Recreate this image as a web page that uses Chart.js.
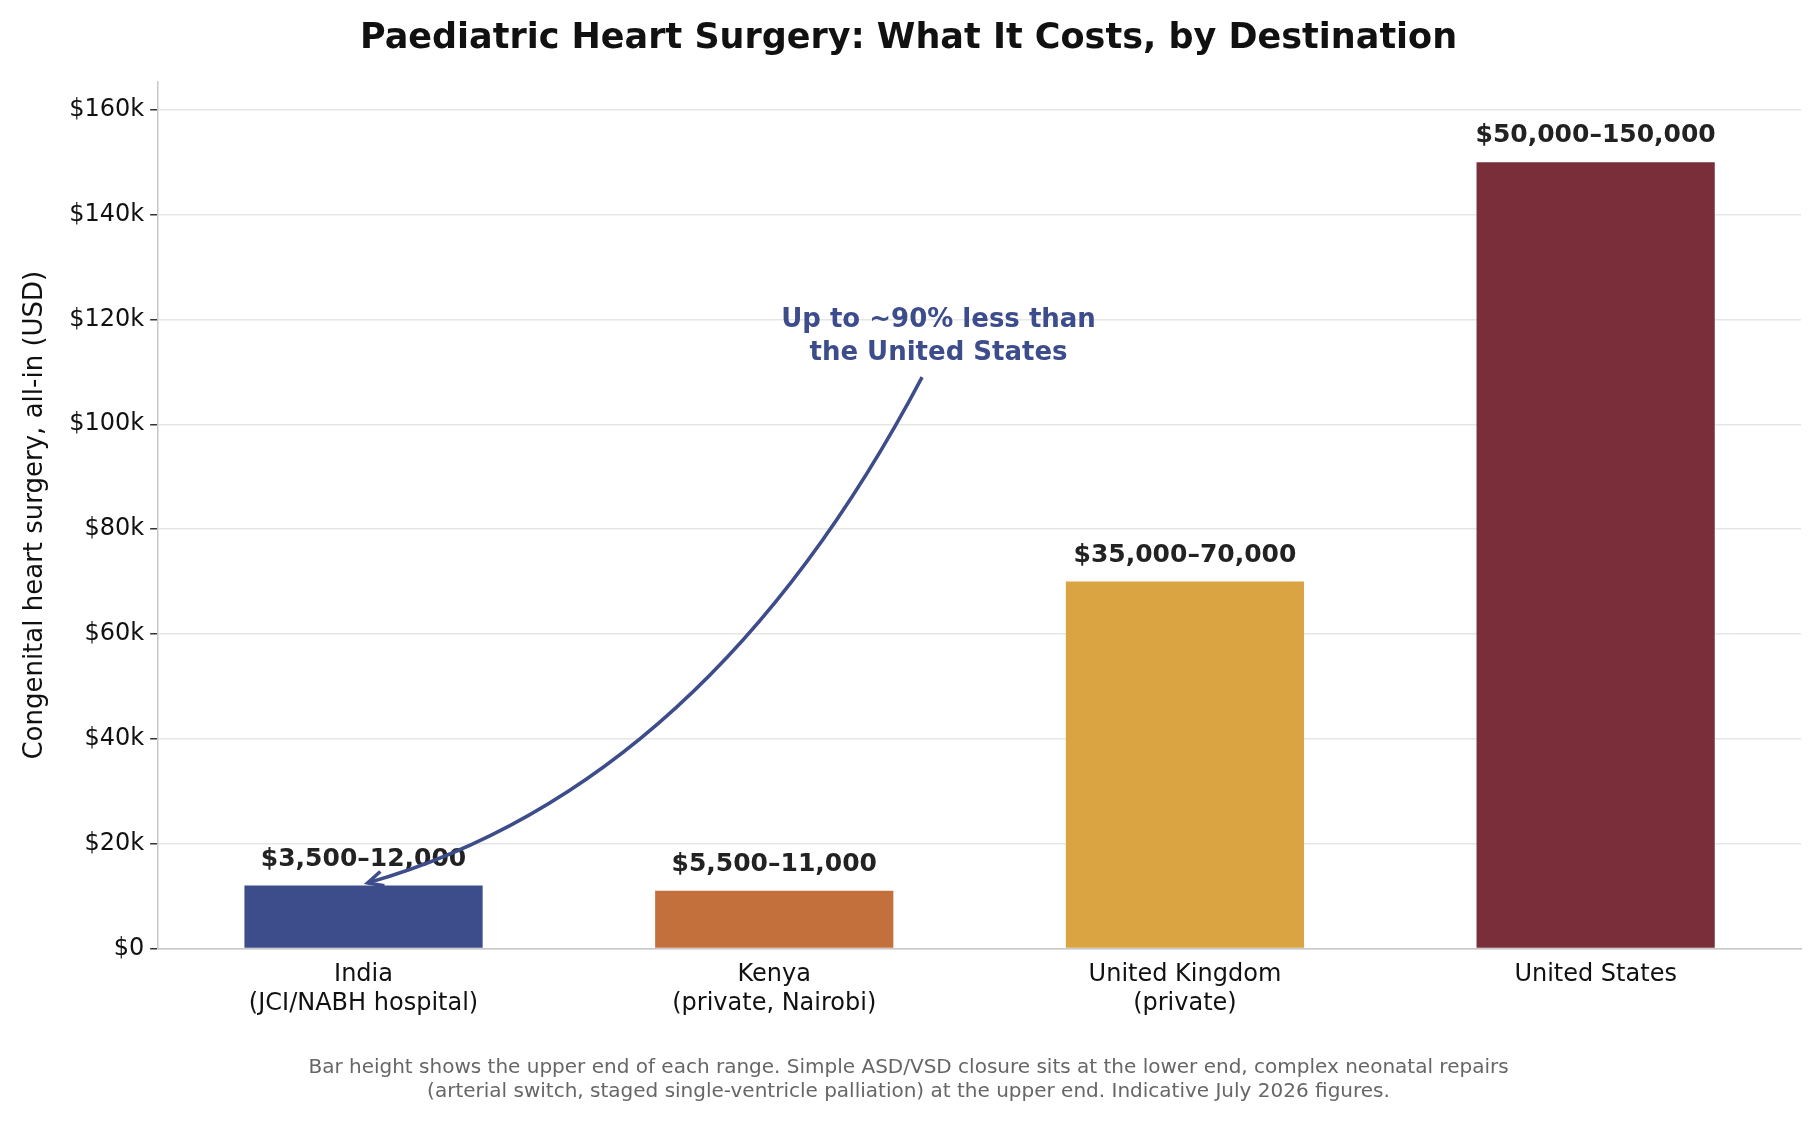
<!DOCTYPE html>
<html lang="en">
  <head>
    <meta charset="UTF-8" />
    <title>Paediatric Heart Surgery Costs</title>
    <style>
      html, body { margin: 0; padding: 0; background: #fff; }
      #wrap { width: 1819px; height: 1122px; }
    </style>
  </head>
  <body>
    <div id="wrap"><canvas id="myChart"></canvas></div>
    <script src="https://cdn.jsdelivr.net/npm/chart.js@4"></script>
    <script>
      var categories = [
        ["India", "(JCI/NABH hospital)"],
        ["Kenya", "(private, Nairobi)"],
        ["United Kingdom", "(private)"],
        ["United States"]
      ];
      var lowCost = [3500, 5500, 35000, 50000];
      var highCost = [12000, 11000, 70000, 150000];
      var barColors = ["#3d4c8a", "#c4703d", "#d9a441", "#7a2e3a"];
      var yTicks = [0, 20000, 40000, 60000, 80000, 100000, 120000, 140000, 160000];

      var font = "'DejaVu Sans', sans-serif";

      function fmt(n) { return n.toLocaleString("en-US"); }

      // value labels + curved annotation arrow
      var extras = {
        id: "extras",
        afterDatasetsDraw: function (chart) {
          var ctx = chart.ctx;
          var x = chart.scales.x, y = chart.scales.y;
          ctx.save();
          ctx.font = "bold 25px " + font;
          ctx.fillStyle = "#222";
          ctx.textAlign = "center";
          ctx.textBaseline = "bottom";
          chart.getDatasetMeta(0).data.forEach(function (bar, i) {
            ctx.fillText("$" + fmt(lowCost[i]) + "\u2013" + fmt(highCost[i]), bar.x, bar.y - 14);
          });

          var p0 = [x.getPixelForValue(1.36), y.getPixelForValue(109000)];
          var c = [x.getPixelForValue(0.835), y.getPixelForValue(31000)];
          var p2 = [x.getPixelForValue(0.01), y.getPixelForValue(12500)];
          ctx.strokeStyle = "#3d4c8a";
          ctx.lineWidth = 3.5;
          ctx.beginPath();
          ctx.moveTo(p0[0], p0[1]);
          ctx.quadraticCurveTo(c[0], c[1], p2[0], p2[1]);
          ctx.stroke();
          var ang = Math.atan2(p2[1] - c[1], p2[0] - c[0]);
          ctx.beginPath();
          ctx.moveTo(p2[0] - 17 * Math.cos(ang - 0.45), p2[1] - 17 * Math.sin(ang - 0.45));
          ctx.lineTo(p2[0], p2[1]);
          ctx.lineTo(p2[0] - 17 * Math.cos(ang + 0.45), p2[1] - 17 * Math.sin(ang + 0.45));
          ctx.stroke();

          ctx.fillStyle = "#3d4c8a";
          ctx.font = "bold 26px " + font;
          ctx.textBaseline = "middle";
          var tx = x.getPixelForValue(1.40);
          ctx.fillText("Up to ~90% less than", tx, y.getPixelForValue(119800));
          ctx.fillText("the United States", tx, y.getPixelForValue(113600));
          ctx.restore();
        }
      };

      new Chart(document.getElementById("myChart"), {
        type: "bar",
        data: {
          labels: categories,
          datasets: [{
            data: highCost,
            backgroundColor: barColors,
            categoryPercentage: 1,
            barPercentage: 0.58
          }]
        },
        options: {
          responsive: true,
          maintainAspectRatio: false,
          animation: false,
          layout: { padding: { left: 16, right: 18, top: 4, bottom: 14 } },
          plugins: {
            legend: { display: false },
            tooltip: { enabled: false },
            title: {
              display: true,
              text: "Paediatric Heart Surgery: What It Costs, by Destination",
              color: "#111",
              font: { family: font, size: 35, weight: "bold" },
              padding: { top: 14, bottom: 22 }
            },
            subtitle: {
              display: true,
              position: "bottom",
              text: [
                "Bar height shows the upper end of each range. Simple ASD/VSD closure sits at the lower end, complex neonatal repairs",
                "(arterial switch, staged single-ventricle palliation) at the upper end. Indicative July 2026 figures."
              ],
              color: "#666",
              font: { family: font, size: 20 },
              padding: { top: 34, bottom: 4 }
            }
          },
          scales: {
            x: {
              grid: { display: false, drawTicks: true, tickLength: 8, tickColor: "#333" },
              border: { color: "#c8c8c8", width: 1.5 },
              ticks: { color: "#111", font: { family: font, size: 24 }, padding: 4 }
            },
            y: {
              min: 0,
              max: 165300,
              afterBuildTicks: function (axis) {
                axis.ticks = yTicks.map(function (v) { return { value: v }; });
              },
              grid: { color: "#e6e6e6", lineWidth: 1.5, tickLength: 8, tickColor: "#333" },
              border: { color: "#c8c8c8", width: 1.5 },
              ticks: {
                color: "#111",
                font: { family: font, size: 24 },
                padding: 6,
                callback: function (v) { return v === 0 ? "$0" : "$" + v / 1000 + "k"; }
              },
              title: {
                display: true,
                text: "Congenital heart surgery, all-in (USD)",
                color: "#111",
                font: { family: font, size: 26 },
                padding: { bottom: 12 }
              }
            }
          }
        },
        plugins: [extras]
      });
    </script>
  </body>
</html>
